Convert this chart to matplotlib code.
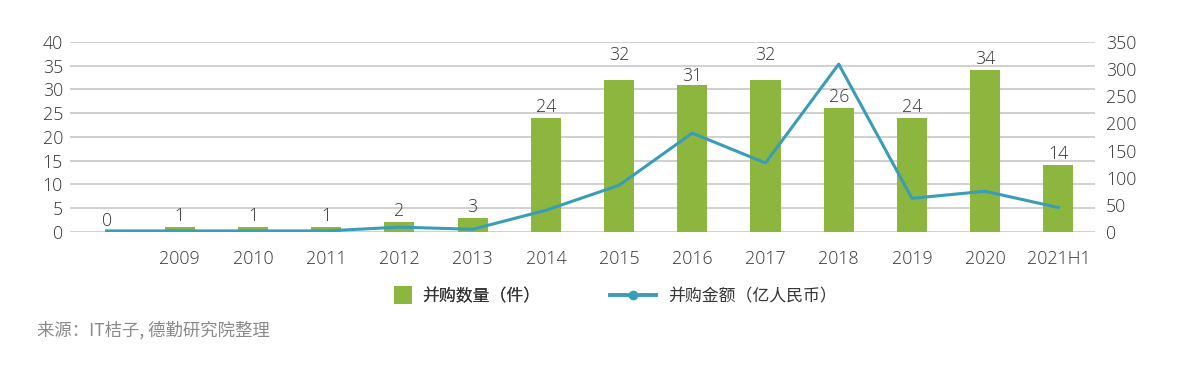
import matplotlib
matplotlib.use("Agg")
import matplotlib.pyplot as plt
from matplotlib.lines import Line2D
import numpy as np

plt.rcParams['font.family'] = ['Open Sans', 'Noto Sans CJK SC', 'DejaVu Sans']
plt.rcParams['font.weight'] = 'light'

categories = ["", "2009", "2010", "2011", "2012", "2013", "2014", "2015",
              "2016", "2017", "2018", "2019", "2020", "2021H1"]
deal_counts = [0, 1, 1, 1, 2, 3, 24, 32, 31, 32, 26, 24, 34, 14]
deal_amounts = [2, 2, 2, 2, 9, 5, 40, 86, 182, 127, 309, 62, 75, 45]
left_ticks = [0, 5, 10, 15, 20, 25, 30, 35, 40]
right_ticks = [0, 50, 100, 150, 200, 250, 300, 350]

# label lift above bar tops (points) - layout only
label_lift = [8, 8, 8, 8, 8, 8, 8, 18, 6, 18, 8, 8, 8, 8]

bar_color = "#8DB63F"
line_color = "#3A9DB7"
text_color = "#353535"
grid_color = "#C8C8C8"
cjk = ['Noto Sans CJK SC', 'DejaVu Sans']

fig = plt.figure(figsize=(11.98, 3.77), dpi=100)
ax = fig.add_axes([0.0584, 0.3846, 0.8556, 0.5044])
x = np.arange(len(categories))
ax.bar(x, deal_counts, width=0.41, color=bar_color, zorder=2)
ax.set_xlim(-0.5, len(categories) - 0.5)
ax.set_ylim(0, 40)
ax.set_yticks(left_ticks)
ax.yaxis.grid(True, color=grid_color, linewidth=1.2, zorder=0)
ax.set_axisbelow(True)
for s in ax.spines.values():
    s.set_visible(False)
ax.tick_params(axis='both', length=0, labelsize=12.8, colors=text_color)
ax.tick_params(axis='y', pad=5)
ax.set_xticks(x)
ax.set_xticklabels(categories)
ax.tick_params(axis='x', pad=13)

for xi, v, lift in zip(x, deal_counts, label_lift):
    ax.annotate(str(v), (xi, v), xytext=(0, lift), textcoords='offset points',
                ha='center', va='center', fontsize=12.8, color=text_color)

ax2 = ax.twinx()
ax2.plot(x, deal_amounts, color=line_color, linewidth=2.2, zorder=3)
ax2.set_ylim(0, 350)
ax2.set_yticks(right_ticks)
for s in ax2.spines.values():
    s.set_visible(False)
ax2.tick_params(axis='y', length=0, labelsize=12.8, colors=text_color, pad=8)

h1 = Line2D([], [], marker='s', linestyle='none', markersize=12.5,
            color=bar_color, markeredgewidth=0)
h2 = Line2D([], [], color=line_color, linewidth=2.8, marker='o',
            markersize=6)
leg1 = fig.legend([h1], ["并购数量（件）"], loc='center left',
                  bbox_to_anchor=(0.317, 0.214), frameon=False,
                  handlelength=1.0, handletextpad=0.6, labelcolor=text_color,
                  prop={'family': cjk, 'size': 12.2, 'weight': 'light'})
leg2 = fig.legend([h2], ["并购金额（亿人民币）"], loc='center left',
                  bbox_to_anchor=(0.4965, 0.214), frameon=False,
                  handlelength=2.7, handletextpad=0.7, labelcolor=text_color,
                  prop={'family': cjk, 'size': 12.2, 'weight': 'light'})
fig.add_artist(leg1)

fig.text(0.031, 0.124, "来源：IT桔子, 德勤研究院整理", fontsize=12.5,
         color="#8A8A8A", family=cjk, weight='light',
         va='center', ha='left')

fig.savefig("out.png", dpi=100)
